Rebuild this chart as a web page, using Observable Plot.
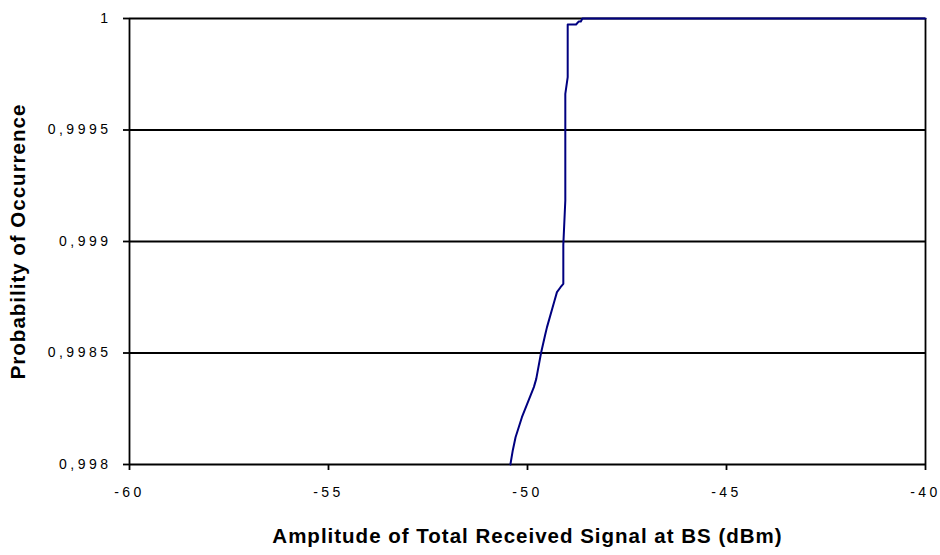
<!DOCTYPE html>
<html>
<head>
<meta charset="utf-8">
<script src="https://cdn.jsdelivr.net/npm/d3@7"></script>
<script src="https://cdn.jsdelivr.net/npm/@observablehq/plot@0.6"></script>
<style>
  html, body { margin: 0; padding: 0; background: #fff; }
  #chart svg { display: block; }
  g[aria-label="y-axis tick label"] text,
  g[aria-label="x-axis tick label"] text { letter-spacing: 3.5px; }
  g[aria-label="text"] text { letter-spacing: 1px; }
</style>
</head>
<body>
<div id="chart"></div>
<script>
// Cumulative distribution
const amplitude = [-50.43, -50.37, -50.30, -50.14, -49.84, -49.78, -49.66, -49.55, -49.51, -49.32, -49.26, -49.17, -49.10, -49.10, -49.05, -49.05, -48.99, -48.99, -48.78, -48.71, -48.66, -48.62, -40];
const probability = [0.998, 0.998063, 0.998122, 0.998212, 0.998347, 0.998384, 0.9985, 0.998586, 0.998616, 0.998735, 0.998773, 0.998795, 0.99881, 0.998985, 0.999184, 0.999662, 0.999737, 0.999973, 0.999973, 0.999987, 0.999987, 1, 1];
const yTicks = [0.998, 0.9985, 0.999, 0.9995, 1];
const xTicks = [-60, -55, -50, -45, -40];
const xTitle = "Amplitude of Total Received Signal at BS (dBm)";
const yTitle = "Probability of Occurrence";

const data = amplitude.map((x, i) => ({x, y: probability[i]}));
const fmtY = d => d === 1 ? "1" : String(d).replace(".", ",");

const plot = Plot.plot({
  width: 940,
  height: 555,
  marginLeft: 129,
  marginRight: 15,
  marginTop: 18,
  marginBottom: 91,
  style: {fontFamily: "Liberation Sans, Arial, sans-serif", fontSize: "14px", color: "#000", background: "#fff"},
  x: {domain: [-60, -40], ticks: xTicks, label: null},
  y: {domain: [0.998, 1], ticks: yTicks, label: null},
  marks: [
    Plot.ruleY(yTicks, {stroke: "#000", strokeWidth: 1.8}),
    Plot.ruleX([-60, -40], {stroke: "#000", strokeWidth: 1.8}),
    Plot.axisY({ticks: yTicks, tickFormat: fmtY, tickSize: 6, tickPadding: 12, stroke: "#000", strokeWidth: 1.8, label: null}),
    Plot.axisX({ticks: xTicks, tickFormat: d => String(d), tickSize: 6, tickPadding: 17, stroke: "#000", strokeWidth: 1.8, label: null}),
    Plot.line(data, {x: "x", y: "y", stroke: "#000080", strokeWidth: 2, curve: "linear"}),
    Plot.text([xTitle], {frameAnchor: "bottom", dy: 78, fontWeight: "bold", fontSize: 20.5, fill: "#000"}),
    Plot.text([yTitle], {frameAnchor: "left", textAnchor: "middle", dx: -111, rotate: -90, fontWeight: "bold", fontSize: 20.5, fill: "#000"})
  ]
});
document.getElementById("chart").appendChild(plot);
</script>
</body>
</html>
